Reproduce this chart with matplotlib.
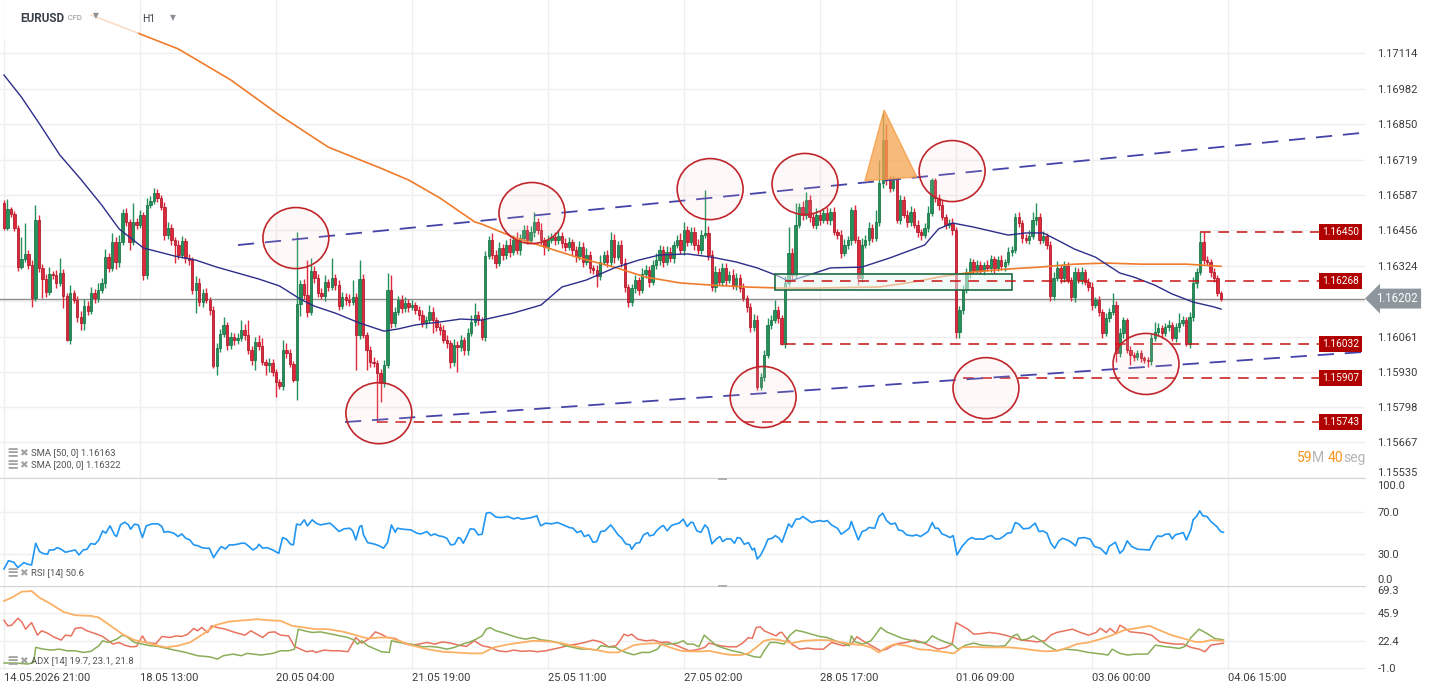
import matplotlib
matplotlib.use("Agg")
import matplotlib.pyplot as plt
import numpy as np
from matplotlib.patches import Ellipse, Polygon, Rectangle
from matplotlib.transforms import blended_transform_factory

plt.rcParams["font.family"] = ["Roboto", "DejaVu Sans"]

# prices are stored as points above 1.15000 (1 point = 0.00001)
BASE = 1.15
PT = 1e-5

first_open_pts = 1557
close_pts = [
    1464, 1535, 1517, 1464, 1320, 1349, 1368, 1327, 1205, 1494,
    1316, 1275, 1227, 1294, 1290, 1260, 1297, 1212, 1048, 1223,
    1197, 1134, 1111, 1175, 1156, 1223, 1205, 1234, 1260, 1357,
    1316, 1412, 1338, 1412, 1520, 1487, 1412, 1487, 1475, 1513,
    1290, 1550, 1565, 1594, 1576, 1542, 1438, 1464, 1420, 1401,
    1364, 1416, 1353, 1345, 1234, 1260, 1190, 1223, 1197, 1159,
    951, 1018, 1070, 1104, 1029, 1059, 1048, 1055, 1085, 1066,
    1011, 974, 1040, 1025, 966, 955, 962, 929, 892, 877,
    1011, 1000, 959, 899, 1182, 1256, 1215, 1152, 1305, 1279,
    1223, 1212, 1264, 1245, 1279, 1252, 1175, 1208, 1197, 1190,
    1208, 1066, 1275, 1066, 1011, 966, 962, 925, 888, 955,
    1234, 1111, 1152, 1197, 1167, 1186, 1171, 1178, 1159, 1141,
    1111, 1122, 1152, 1122, 1096, 1085, 1048, 1037, 966, 1029,
    1022, 1048, 1011, 1074, 1115, 1141, 1122, 1059, 1360, 1420,
    1364, 1334, 1390, 1364, 1401, 1375, 1420, 1383, 1427, 1457,
    1420, 1449, 1487, 1457, 1420, 1394, 1420, 1431, 1420, 1434,
    1409, 1394, 1412, 1383, 1360, 1394, 1338, 1364, 1316, 1308,
    1286, 1338, 1364, 1338, 1420, 1356, 1401, 1334, 1245, 1190,
    1241, 1271, 1234, 1294, 1308, 1264, 1327, 1345, 1383, 1338,
    1375, 1353, 1401, 1420, 1383, 1457, 1412, 1449, 1401, 1383,
    1438, 1446, 1364, 1245, 1301, 1264, 1316, 1271, 1290, 1252,
    1279, 1241, 1205, 1171, 1096, 1122, 873, 910, 992, 1104,
    1122, 1159, 1130, 1032, 1260, 1371, 1290, 1475, 1542, 1513,
    1568, 1505, 1475, 1513, 1494, 1520, 1494, 1524, 1449, 1438,
    1371, 1401, 1420, 1531, 1420, 1279, 1401, 1420, 1464, 1427,
    1487, 1632, 1792, 1643, 1613, 1643, 1494, 1568, 1513, 1487,
    1524, 1475, 1449, 1438, 1464, 1520, 1643, 1576, 1550, 1505,
    1475, 1483, 1457, 1078, 1159, 1234, 1297, 1338, 1308, 1327,
    1308, 1327, 1316, 1349, 1316, 1345, 1323, 1338, 1375, 1383,
    1505, 1483, 1427, 1420, 1434, 1494, 1505, 1420, 1434, 1401,
    1212, 1279, 1316, 1279, 1323, 1271, 1208, 1301, 1271, 1301,
    1264, 1245, 1178, 1197, 1152, 1074, 1130, 1152, 1178, 1000,
    1074, 1122, 1011, 992, 985, 1000, 981, 974, 970, 1055,
    1078, 1092, 1074, 1096, 1104, 1055, 1096, 1111, 1122, 1032,
    1134, 1260, 1301, 1412, 1345, 1338, 1301, 1279, 1223, 1202,
]
wick_up_pts = [
    11, 37, 8, 10, 12, 82, 115, 15, 20, 56,
    18, 14, 20, 25, 12, 18, 56, 15, 10, 30,
    12, 15, 20, 25, 18, 22, 15, 26, 20, 30,
    15, 35, 20, 25, 15, 20, 12, 70, 15, 20,
    12, 25, 20, 19, 15, 12, 18, 22, 15, 12,
    18, 20, 12, 15, 10, 25, 18, 15, 20, 12,
    15, 20, 18, 29, 12, 18, 15, 20, 37, 22,
    56, 15, 20, 25, 30, 12, 18, 15, 10, 12,
    37, 25, 15, 12, 267, 15, 20, 130, 48, 18,
    15, 20, 25, 12, 74, 15, 18, 20, 15, 22,
    63, 15, 70, 18, 12, 15, 20, 12, 15, 18,
    63, 56, 20, 15, 18, 22, 15, 20, 12, 15,
    18, 15, 25, 20, 12, 15, 18, 20, 12, 22,
    15, 20, 12, 18, 25, 45, 15, 12, 20, 15,
    25, 18, 22, 15, 20, 25, 18, 30, 15, 20,
    18, 22, 37, 15, 26, 12, 20, 15, 18, 22,
    15, 20, 18, 12, 15, 22, 18, 25, 15, 12,
    20, 25, 15, 18, 29, 22, 15, 20, 18, 12,
    15, 20, 12, 22, 18, 15, 20, 25, 18, 15,
    22, 18, 15, 20, 25, 30, 15, 20, 18, 22,
    20, 160, 25, 18, 22, 15, 20, 18, 15, 22,
    18, 15, 20, 12, 15, 22, 18, 15, 20, 25,
    18, 38, 15, 12, 25, 97, 20, 82, 15, 22,
    30, 18, 15, 25, 20, 18, 22, 15, 20, 12,
    18, 22, 15, 11, 20, 15, 25, 18, 22, 15,
    44, 85, 100, 60, 15, 15, 7, 20, 15, 18,
    22, 15, 18, 12, 20, 25, 7, 7, 15, 18,
    12, 15, 18, 12, 15, 20, 18, 15, 12, 18,
    15, 12, 18, 15, 12, 15, 18, 12, 20, 15,
    15, 18, 12, 15, 22, 30, 52, 15, 18, 12,
    15, 20, 25, 12, 18, 15, 12, 20, 15, 18,
    12, 15, 18, 12, 15, 12, 20, 15, 45, 15,
    18, 12, 8, 15, 12, 10, 12, 8, 10, 15,
    37, 18, 12, 15, 18, 12, 15, 37, 15, 12,
    18, 22, 15, 38, 38, 15, 12, 15, 12, 8,
]
wick_dn_pts = [
    7, 8, 10, 12, 15, 8, 12, 15, 35, 12,
    15, 70, 18, 12, 15, 20, 12, 45, 5, 15,
    12, 20, 26, 26, 15, 12, 18, 15, 12, 20,
    15, 12, 25, 18, 12, 15, 29, 12, 15, 10,
    20, 15, 12, 10, 15, 12, 18, 15, 20, 67,
    15, 12, 20, 18, 15, 86, 15, 20, 12, 18,
    7, 33, 15, 12, 18, 15, 20, 15, 12, 18,
    15, 20, 38, 15, 12, 37, 25, 15, 56, 12,
    15, 20, 12, 7, 74, 45, 15, 20, 12, 18,
    15, 12, 20, 15, 12, 18, 15, 12, 20, 15,
    12, 130, 15, 12, 75, 20, 15, 182, 71, 15,
    12, 18, 15, 12, 20, 15, 18, 12, 15, 20,
    15, 18, 12, 48, 15, 20, 12, 18, 22, 15,
    93, 15, 20, 18, 12, 15, 18, 11, 15, 12,
    15, 20, 12, 18, 15, 20, 12, 15, 18, 12,
    15, 12, 18, 15, 20, 30, 15, 12, 18, 15,
    20, 15, 12, 18, 22, 15, 18, 12, 20, 15,
    41, 15, 12, 18, 15, 20, 12, 15, 18, 19,
    15, 18, 20, 12, 15, 18, 12, 15, 20, 18,
    12, 15, 18, 12, 15, 20, 15, 12, 18, 15,
    15, 12, 18, 15, 20, 12, 15, 18, 12, 15,
    18, 15, 12, 20, 18, 15, 11, 11, 15, 12,
    15, 12, 18, 2, 15, 12, 18, 15, 12, 20,
    15, 18, 12, 15, 20, 12, 15, 18, 12, 15,
    18, 12, 15, 18, 12, 27, 15, 12, 18, 15,
    12, 15, 18, 20, 15, 12, 10, 15, 12, 18,
    15, 12, 18, 18, 12, 15, 12, 15, 18, 12,
    15, 12, 18, 23, 23, 15, 12, 18, 15, 12,
    15, 18, 12, 15, 18, 12, 15, 18, 12, 15,
    12, 15, 18, 12, 15, 12, 18, 15, 12, 15,
    18, 15, 12, 18, 15, 12, 15, 18, 12, 15,
    12, 15, 18, 12, 15, 19, 12, 15, 12, 34,
    15, 18, 12, 37, 15, 12, 15, 12, 22, 15,
    12, 15, 18, 12, 15, 12, 15, 18, 12, 7,
    12, 15, 18, 12, 15, 12, 18, 15, 12, 10,
]

sma50_bar = [0, 5, 10, 16, 22, 28, 33, 40, 49, 55, 61, 73, 79, 85, 89, 95, 102, 109, 113,
             118, 125, 131, 137, 146, 154, 160, 167, 175, 182, 188, 196, 203, 210, 216,
             222, 225, 228, 237, 246, 254, 264, 268, 272, 278, 288, 293, 298, 302, 307,
             313, 320, 324, 330, 335, 341, 347, 349]
sma50_pts = [2033, 1951, 1855, 1736, 1646, 1550, 1461, 1390, 1360, 1345, 1319, 1275, 1249,
             1200, 1174, 1148, 1111, 1081, 1089, 1104, 1115, 1126, 1122, 1148, 1178, 1245,
             1271, 1316, 1345, 1364, 1368, 1356, 1338, 1316, 1286, 1267, 1278, 1316, 1319,
             1353, 1401, 1461, 1483, 1468, 1438, 1446, 1446, 1420, 1386, 1356, 1297, 1282,
             1252, 1219, 1189, 1171, 1163]
sma200_bar = [25, 36, 50, 65, 79, 93, 108, 116, 125, 135, 137, 146, 156, 165, 175, 184, 194,
              203, 213, 223, 232, 251, 261, 268, 278, 288, 297, 307, 316, 326, 339, 349]
sma200_pts = [2256, 2201, 2130, 2015, 1884, 1765, 1687, 1643, 1576, 1487, 1479, 1431, 1390,
              1353, 1319, 1282, 1260, 1252, 1245, 1241, 1241, 1245, 1264, 1282, 1301, 1312,
              1319, 1330, 1334, 1330, 1330, 1322]

rsi_bar = [0.0, 1.3, 2.8, 4.0, 5.7, 6.8, 7.9, 9.1, 10.2, 11.3, 12.5, 13.0, 14.2, 15.3, 16.4,
           17.6, 19.3, 20.4, 21.5, 22.7, 23.8, 24.9, 26.1, 27.2, 28.3, 29.2, 30.4, 31.7, 32.3,
           33.4, 34.6, 35.7, 36.3, 37.4, 38.5, 39.7, 40.8, 42.5, 44.2, 45.3, 45.9, 47.0, 48.7,
           49.9, 51.0, 52.1, 53.3, 54.4, 55.5, 56.7, 57.8, 58.9, 60.1, 61.2, 62.3, 63.5, 64.6,
           65.7, 66.9, 68.0, 69.1, 70.3, 71.4, 72.5, 73.1, 74.2, 75.4, 77.1, 78.2, 78.8, 79.9,
           81.0, 82.2, 83.0, 83.9, 85.0, 86.1, 87.0, 88.4, 89.5, 90.7, 91.8, 93.5, 94.6, 96.1,
           97.5, 99.2, 100.0, 100.9, 102.0, 102.6, 103.1, 104.3, 106.0, 107.7, 108.8, 110.0,
           111.1, 112.2, 112.8, 114.5, 116.7, 118.4, 119.6, 121.3, 122.4, 123.5, 124.7, 125.8,
           127.0, 128.1, 129.2, 130.3, 130.9, 131.7, 132.6, 133.7, 134.9, 136.0, 137.1, 138.3,
           139.4, 141.1, 142.8, 144.5, 146.2, 147.3, 148.5, 150.2, 151.3, 152.8, 153.9, 155.3,
           157.0, 158.7, 160.4, 162.1, 163.2, 164.3, 165.5, 166.4, 167.7, 168.9, 170.0, 171.1,
           172.3, 174.0, 175.1, 176.1, 177.2, 178.3, 179.5, 180.0, 181.2, 182.3, 183.4, 184.6,
           185.1, 186.3, 187.2, 188.5, 189.1, 190.2, 191.4, 192.5, 193.6, 194.8, 195.9, 197.0,
           197.6, 198.7, 199.9, 201.0, 201.9, 203.0, 204.2, 205.3, 206.1, 207.2, 208.4, 209.5,
           210.3, 211.2, 212.3, 213.5, 214.6, 215.2, 216.0, 216.9, 218.0, 219.1, 220.3, 221.2,
           222.3, 223.1, 224.2, 225.0, 225.9, 227.1, 228.2, 229.1, 230.5, 231.6, 232.7, 233.9,
           235.0, 236.1, 237.3, 238.4, 239.0, 240.1, 241.2, 242.4, 243.0, 244.1, 245.0, 246.1,
           247.3, 248.0, 249.7, 250.9, 252.0, 253.1, 254.3, 255.6, 256.5, 257.7, 258.8, 260.5,
           261.7, 262.8, 263.9, 265.0, 266.2, 267.0, 267.9, 269.0, 270.2, 271.3, 272.2, 273.3,
           274.7, 276.4, 277.5, 278.7, 279.8, 280.9, 282.1, 283.2, 284.3, 285.5, 286.6, 287.7,
           288.9, 290.0, 291.1, 292.3, 294.0, 295.7, 296.8, 297.9, 299.1, 300.2, 301.3, 302.5,
           303.6, 305.3, 306.4, 307.3, 308.1, 309.8, 311.5, 312.7, 314.4, 316.1, 316.9, 318.7,
           320.0, 321.0, 322.1, 323.4, 325.1, 328.5, 329.7, 330.8, 331.9, 333.1, 334.2, 335.0,
           335.9, 337.6, 338.2, 339.1, 340.4, 341.0, 342.1, 342.9, 343.8, 345.0, 346.1, 347.8,
           348.9, 349.7]
rsi_val = [15.2, 23.2, 21.6, 16.5, 21.3, 19.7, 19.0, 40.0, 31.9, 30.0, 29.4, 33.5, 33.5, 35.8,
           34.2, 31.3, 32.6, 33.5, 28.7, 33.5, 34.2, 39.7, 39.0, 43.2, 51.9, 49.7, 56.8, 48.1,
           46.5, 57.7, 60.3, 57.7, 53.5, 58.4, 57.7, 45.5, 56.8, 58.7, 58.7, 56.1, 50.6, 51.3,
           49.7, 46.5, 49.0, 44.8, 43.2, 38.4, 37.7, 35.8, 35.2, 35.2, 26.1, 31.9, 36.8, 34.5,
           38.4, 38.4, 39.0, 40.0, 40.0, 36.8, 33.5, 35.8, 39.0, 35.2, 35.8, 33.5, 31.3, 30.3,
           45.5, 43.9, 39.0, 38.4, 58.4, 57.7, 62.6, 56.8, 62.6, 59.4, 57.7, 58.4, 59.4, 56.1,
           51.3, 53.9, 54.5, 51.9, 43.2, 56.1, 57.1, 48.1, 40.6, 39.4, 37.4, 35.2, 40.6, 57.7,
           50.6, 54.5, 53.5, 52.9, 49.7, 49.0, 51.3, 47.4, 49.0, 47.1, 46.5, 44.8, 38.4, 39.0,
           45.5, 44.8, 40.0, 45.8, 53.9, 53.5, 48.1, 48.7, 69.0, 69.7, 65.2, 64.8, 65.8, 63.5,
           64.8, 63.2, 64.2, 64.8, 66.5, 56.8, 59.4, 58.7, 60.0, 57.7, 55.2, 54.5, 50.3, 51.9,
           46.5, 48.1, 41.0, 41.6, 51.3, 51.9, 57.7, 52.9, 48.1, 44.8, 39.4, 38.4, 34.2, 40.0,
           40.6, 48.1, 50.3, 47.1, 48.1, 52.3, 56.1, 57.1, 51.9, 57.1, 58.4, 59.4, 63.2, 56.1,
           60.3, 60.0, 51.9, 50.6, 57.7, 54.5, 39.4, 43.9, 46.5, 41.6, 44.2, 44.2, 40.0, 45.5,
           44.8, 39.0, 40.6, 33.5, 35.2, 24.8, 28.1, 35.2, 43.9, 44.8, 47.4, 44.8, 41.0, 51.3,
           58.7, 55.5, 63.2, 63.5, 65.8, 62.6, 60.0, 61.0, 61.9, 61.0, 61.9, 57.7, 55.5, 54.5,
           48.7, 51.3, 54.5, 61.0, 51.3, 43.2, 51.3, 52.9, 55.2, 54.5, 65.8, 69.0, 61.9, 58.4,
           59.4, 52.9, 51.9, 48.1, 47.1, 48.1, 46.5, 48.7, 51.3, 60.0, 54.5, 54.5, 49.0, 47.4,
           45.5, 47.4, 28.7, 36.8, 43.2, 45.5, 43.9, 44.2, 43.9, 46.5, 47.4, 44.2, 44.2, 46.5,
           49.7, 50.3, 60.0, 58.4, 53.9, 54.5, 59.4, 51.3, 51.9, 49.7, 40.0, 35.2, 42.3, 44.8,
           42.6, 40.0, 37.4, 44.8, 45.5, 43.9, 36.8, 35.2, 29.4, 36.8, 41.0, 30.3, 33.5, 42.3,
           36.8, 34.2, 33.5, 41.6, 47.1, 46.5, 48.7, 49.0, 44.2, 48.1, 49.7, 50.3, 43.2, 53.5,
           62.6, 66.5, 71.3, 66.5, 65.8, 61.0, 56.1, 51.3, 50.6]

adx_bar = [0, 2.2, 5.1, 7.9, 10.2, 13.6, 17.0, 20.4, 24.9, 27.2, 30.6, 34.0, 37.4, 40.8, 44.2,
           46.5, 49.9, 53.3, 57.8, 60.6, 64.6, 69.1, 72.5, 75.9, 79.3, 82.7, 86.1, 89.5, 92.9,
           97.5, 100.9, 104.3, 107.7, 110.5, 113.3, 116.7, 121.3, 125.8, 129.2, 133.7, 137.1,
           140.5, 145.1, 148.5, 151.9, 156.4, 159.8, 163.2, 166.6, 170.0, 173.4, 176.1, 178.3,
           180.6, 182.9, 185.1, 187.4, 189.7, 191.9, 194.2, 196.5, 199.9, 202.1, 204.4, 206.7,
           208.9, 211.2, 213.5, 215.7, 218.0, 220.3, 222.5, 225.9, 229.3, 232.7, 236.1, 239.5,
           243.0, 246.3, 248.6, 250.9, 253.1, 255.4, 258.8, 262.2, 265.6, 269.0, 272.4, 274.7,
           278.1, 281.5, 284.9, 288.3, 291.7, 295.1, 298.5, 301.9, 305.3, 307.6, 311.0, 314.4,
           317.8, 321.2, 324.6, 328.5, 331.4, 334.8, 338.2, 341.6, 343.8, 346.1, 349.7]
adx_val = [56.3, 59.1, 64.2, 64.8, 59.1, 53.5, 47.0, 44.2, 43.6, 42.2, 35.1, 28.0, 23.0, 21.0,
           18.2, 16.8, 18.2, 21.0, 29.5, 35.7, 38.8, 39.9, 40.8, 39.9, 39.4, 35.1, 33.7, 32.3,
           32.3, 30.0, 27.2, 24.4, 25.2, 25.2, 22.4, 18.7, 15.3, 13.1, 12.5, 11.7, 11.7, 16.8,
           19.6, 21.0, 22.4, 21.8, 20.4, 18.2, 15.9, 14.5, 12.5, 12.5, 15.3, 18.7, 19.6, 20.1,
           20.4, 18.2, 15.9, 13.9, 13.4, 13.4, 13.9, 12.5, 11.1, 10.3, 10.3, 11.7, 16.8, 22.4,
           23.8, 23.0, 20.4, 22.4, 23.0, 23.0, 21.5, 19.6, 18.7, 16.8, 12.5, 16.8, 19.6, 18.2,
           15.3, 14.5, 13.1, 11.7, 16.8, 17.3, 16.8, 16.8, 16.8, 15.9, 14.5, 13.4, 13.9, 16.8,
           19.6, 21.0, 23.8, 27.2, 31.4, 33.1, 35.1, 31.4, 27.2, 24.4, 21.5, 21.5, 23.0, 22.4]

pdi_bar = [0, 1.1, 2.2, 4.0, 5.1, 6.2, 7.9, 9.6, 10.8, 12.5, 14.2, 16.4, 17.6, 19.3, 20.4,
           22.1, 23.8, 26.1, 28.3, 30.0, 31.2, 32.9, 34.6, 36.3, 38.0, 39.7, 40.8, 42.0, 43.6,
           45.3, 47.6, 49.3, 51.0, 52.7, 54.4, 55.5, 56.7, 58.4, 59.5, 61.2, 63.5, 65.7, 69.1,
           70.8, 72.5, 74.2, 75.9, 77.6, 79.3, 81.6, 83.3, 85.0, 86.7, 88.4, 89.5, 91.8, 94.1,
           96.3, 98.6, 100.9, 102.6, 103.7, 104.8, 106.5, 108.2, 109.9, 112.2, 114.5, 116.7,
           119.0, 121.3, 123.5, 125.8, 128.1, 130.3, 132.6, 134.9, 137.1, 139.4, 141.7, 144.0,
           146.2, 148.5, 150.7, 153.0, 155.3, 157.5, 159.8, 162.1, 164.3, 166.6, 168.9, 171.1,
           173.4, 175.5, 176.6, 177.8, 178.9, 180.0, 181.7, 184.0, 186.3, 188.5, 190.2, 191.9,
           194.2, 196.5, 198.7, 201.0, 202.1, 203.3, 205.5, 207.8, 210.1, 211.8, 213.5, 214.6,
           215.7, 216.9, 218.0, 219.1, 221.4, 222.5, 223.1, 224.2, 225.9, 228.2, 230.5, 232.7,
           235.0, 237.3, 239.0, 240.7, 243.0, 244.6, 246.3, 248.0, 249.7, 251.4, 253.1, 254.8,
           256.5, 258.8, 261.1, 263.3, 265.6, 267.9, 270.2, 271.9, 273.0, 274.7, 276.4, 278.1,
           280.3, 282.6, 284.9, 287.1, 289.4, 291.7, 294.0, 296.2, 298.5, 300.2, 301.9, 304.2,
           306.4, 308.7, 311.0, 313.2, 314.4, 316.1, 317.2, 318.9, 320.0, 321.2, 322.9, 324.6,
           326.8, 329.1, 331.4, 333.6, 335.9, 338.2, 340.4, 342.7, 344.4, 346.1, 349.7]
pdi_val = [39.9, 35.1, 35.7, 41.6, 38.5, 32.3, 37.9, 27.2, 30.9, 28.9, 25.8, 23.0, 27.2, 26.6,
           32.9, 33.7, 30.9, 28.6, 26.1, 22.4, 19.6, 21.0, 18.7, 17.3, 17.6, 26.6, 21.0, 20.4,
           20.1, 26.1, 25.2, 26.6, 26.1, 28.0, 32.9, 30.9, 33.7, 29.5, 35.1, 33.7, 32.3, 30.0,
           27.2, 30.9, 28.0, 25.2, 29.5, 30.0, 27.2, 26.6, 17.6, 15.3, 13.1, 13.9, 12.5, 14.5,
           13.9, 13.9, 13.1, 25.2, 20.4, 22.4, 24.4, 30.0, 28.0, 25.2, 24.4, 20.4, 18.7, 19.6,
           21.0, 19.6, 21.5, 20.4, 18.7, 17.6, 22.4, 18.2, 16.8, 13.9, 13.1, 14.5, 13.4, 13.9,
           13.1, 13.9, 15.3, 16.8, 18.7, 19.6, 21.0, 23.0, 21.5, 17.3, 18.2, 22.4, 28.0, 26.6,
           28.0, 23.8, 22.4, 23.0, 21.0, 21.5, 19.6, 16.8, 13.9, 14.8, 16.8, 20.4, 19.6, 18.2,
           17.3, 17.3, 20.4, 25.2, 24.4, 33.7, 34.3, 30.9, 29.5, 26.6, 29.5, 29.5, 25.2, 19.6,
           15.3, 16.2, 15.3, 15.3, 21.0, 19.6, 18.2, 19.6, 25.8, 22.4, 19.6, 16.8, 13.9, 15.3,
           18.2, 20.1, 21.0, 23.0, 21.0, 18.2, 15.3, 16.8, 19.6, 37.9, 35.1, 32.3, 28.0, 28.6,
           29.5, 28.6, 27.2, 25.2, 23.0, 22.4, 21.5, 22.4, 27.2, 29.5, 30.9, 32.3, 29.5, 27.2,
           29.5, 33.1, 29.5, 32.9, 28.6, 35.7, 33.7, 30.0, 29.5, 28.9, 27.2, 21.5, 20.4, 19.6,
           19.6, 16.8, 15.3, 13.1, 18.7, 20.4]

mdi_bar = [0, 3.4, 6.8, 8.5, 9.1, 11.3, 13.6, 15.9, 18.1, 20.4, 22.7, 24.9, 27.2, 28.3, 30.0,
           32.3, 34.0, 35.1, 37.4, 39.7, 42.0, 44.2, 47.6, 52.1, 55.5, 58.9, 61.2, 62.9, 65.7,
           68.0, 69.7, 71.4, 73.7, 77.1, 79.3, 81.6, 83.3, 84.4, 86.1, 88.4, 90.7, 94.1, 96.3,
           98.6, 100.3, 101.4, 102.6, 104.3, 106.5, 108.2, 110.5, 111.1, 113.3, 116.7, 120.1,
           122.4, 124.7, 127.0, 129.2, 131.5, 133.7, 135.4, 137.1, 138.3, 139.4, 141.1, 142.8,
           145.1, 147.3, 149.6, 151.9, 154.1, 156.4, 158.7, 161.0, 163.2, 165.5, 167.7, 170.0,
           171.1, 173.4, 175.5, 176.1, 178.3, 180.6, 182.9, 185.1, 187.4, 188.5, 190.8, 193.1,
           194.8, 195.9, 197.6, 199.3, 200.8, 202.1, 204.4, 206.7, 208.9, 211.2, 213.5, 215.2,
           216.9, 218.0, 219.7, 221.4, 223.7, 225.4, 227.1, 229.3, 231.6, 233.9, 236.1, 238.4,
           240.7, 242.4, 243.0, 244.1, 246.3, 248.6, 249.7, 251.4, 253.1, 255.4, 257.7, 259.9,
           262.2, 264.5, 266.2, 267.9, 270.2, 271.9, 273.6, 275.8, 278.1, 280.3, 282.6, 284.9,
           287.1, 289.4, 290.6, 291.7, 293.4, 295.1, 297.4, 299.6, 301.9, 304.2, 307.6, 311.0,
           314.9, 316.6, 317.8, 320.0, 322.3, 324.6, 328.0, 330.2, 332.5, 334.8, 337.0, 338.7,
           340.4, 342.7, 345.0, 347.2, 349.7]
mdi_val = [3.5, 3.5, 2.6, 4.0, 16.8, 15.3, 14.5, 15.3, 13.9, 13.9, 12.5, 13.4, 18.2, 22.4,
           21.0, 23.8, 27.2, 26.1, 21.0, 19.6, 18.2, 17.6, 15.3, 12.5, 9.7, 8.8, 6.9, 9.7, 11.1,
           9.7, 11.7, 11.1, 10.3, 11.7, 13.9, 13.9, 15.3, 32.3, 30.9, 29.5, 30.0, 28.0, 26.6,
           25.2, 23.2, 19.6, 22.4, 18.2, 15.3, 13.1, 12.5, 22.4, 21.0, 19.6, 17.3, 17.6, 16.8,
           15.3, 16.8, 19.6, 21.5, 23.8, 26.6, 32.3, 33.7, 30.9, 29.5, 27.2, 25.2, 23.8, 25.2,
           23.2, 22.4, 21.0, 18.2, 16.8, 15.3, 15.3, 14.5, 18.2, 17.3, 16.8, 15.3, 12.5, 10.5,
           12.5, 12.5, 15.3, 19.6, 19.6, 20.4, 22.4, 19.6, 19.6, 17.3, 27.2, 23.8, 18.2, 15.9,
           13.9, 12.5, 10.3, 8.8, 8.3, 13.9, 21.0, 21.0, 19.6, 27.2, 31.4, 30.0, 28.0, 26.1,
           25.2, 22.4, 20.1, 18.2, 26.6, 21.5, 19.6, 22.4, 26.6, 33.7, 30.0, 27.2, 24.4, 23.0,
           21.0, 21.0, 26.6, 23.8, 21.0, 19.6, 15.3, 18.7, 20.4, 18.7, 18.2, 17.6, 18.2, 26.6,
           28.0, 23.2, 23.8, 26.6, 22.4, 17.6, 13.9, 15.3, 14.5, 12.5, 11.1, 10.3, 15.3, 11.7,
           10.3, 11.1, 11.1, 18.7, 17.6, 16.8, 15.9, 17.6, 25.2, 32.3, 28.6, 24.4, 23.2]

price_ticks = [1.15535, 1.15667, 1.15798, 1.15930, 1.16061, 1.16193, 1.16324, 1.16456,
               1.16587, 1.16719, 1.16850, 1.16982, 1.17114]
last_price = 1.16202
levels = [1.16450, 1.16268, 1.16032, 1.15907, 1.15743]
level_start = [343, 224, 224, 275, 107]
upper_trend_bar = [67.1, 389.4]
upper_trend_price = [1.16401, 1.16818]
lower_trend_bar = [97.8, 389.4]
lower_trend_price = [1.15743, 1.16003]
circle_bar = [83.7, 107.5, 151.4, 202.5, 229.7, 271.9, 217.7, 281.6, 327.5]
circle_price = [1.16427, 1.15776, 1.16520, 1.16609, 1.16628, 1.16676, 1.15836, 1.15869, 1.15959]
box_bar = [221.1, 289.1]
box_price = [1.16234, 1.16293]
triangle_bar = [246.9, 252.4, 261.8]
triangle_price = [1.16640, 1.16903, 1.16654]

time_tick_bars = [0, 39, 78, 117, 156, 195, 234, 273, 312, 351]
time_labels = ["14.05.2026 21:00", "18.05 13:00", "20.05 04:00", "21.05 19:00", "25.05 11:00",
               "27.05 02:00", "28.05 17:00", "01.06 09:00", "03.06 00:00", "04.06 15:00"]

W, H = 1434, 694
XMIN, XMAX = -1.147, 390.3
GRID = "#efefef"
TXT = "#3c3c3c"
ICON = "#a2a2a2"

close = BASE + np.array(close_pts) * PT
opens = np.concatenate([[BASE + first_open_pts * PT], close[:-1]])
top = np.maximum(opens, close)
bot = np.minimum(opens, close)
high = top + np.array(wick_up_pts) * PT
low = bot - np.array(wick_dn_pts) * PT
bars = np.arange(len(close))
up = close >= opens

fig = plt.figure(figsize=(W / 100, H / 100), dpi=100)
fig.patch.set_facecolor("white")
ax = fig.add_axes([0, 1 - 478 / H, 1365 / W, 478 / H])
ax_rsi = fig.add_axes([0, 1 - 585.7 / H, 1365 / W, 107.7 / H])
ax_adx = fig.add_axes([0, 1 - 670 / H, 1365 / W, 84.3 / H])

for a in (ax, ax_rsi, ax_adx):
    a.set_xlim(XMIN, XMAX)
    for s in a.spines.values():
        s.set_visible(False)
    a.tick_params(axis="both", length=0, labelsize=8, labelcolor=TXT)
    a.yaxis.tick_right()
    a.set_xticks(time_tick_bars)
    a.grid(True, color=GRID, linewidth=1)
    a.set_axisbelow(True)
for a in (ax_rsi, ax_adx):
    a.spines["top"].set_visible(True)
    a.spines["top"].set_color("#d4d4d4")
ax.tick_params(axis="x", labelbottom=False)
ax_rsi.tick_params(axis="x", labelbottom=False)


def legend_row(a, yfrac, label):
    # small "settings" and "remove" icons followed by the indicator text
    a.text(6 / 1365, yfrac, "\u2261", transform=a.transAxes, fontsize=10.5,
           fontweight="bold", color=ICON, va="center", zorder=10)
    a.text(19 / 1365, yfrac, "\u2716", transform=a.transAxes, fontsize=7.5,
           color=ICON, va="center", zorder=10)
    a.text(31 / 1365, yfrac, label, transform=a.transAxes, fontsize=6.8,
           color="#555555", va="center", zorder=10)


# main price panel
ax.set_ylim(1.15535, 1.17312)
ax.set_yticks(price_ticks)
ax.set_yticklabels(["" if t == 1.16193 else f"{t:.5f}" for t in price_ticks])
ax.tick_params(axis="y", pad=9)
ax.get_yticklabels()[0].set_va("bottom")

ax.axhline(last_price, color="#8c8c8c", lw=1, zorder=2)

green, green_e = "#22915a", "#136b3e"
red, red_e = "#e0283c", "#a3101f"
cols = np.where(up, green, red)
ecols = np.where(up, green_e, red_e)
ax.vlines(bars, low, high, colors=cols, lw=1, zorder=3)
ax.bar(bars, np.maximum(top - bot, 1.2e-5), bottom=bot, width=0.68, color=cols,
       edgecolor=ecols, linewidth=0.5, zorder=4)

ax.plot(np.array(sma200_bar), BASE + np.array(sma200_pts) * PT, color="#f07b2a", lw=1.2, zorder=5)
ax.plot(np.array(sma50_bar), BASE + np.array(sma50_pts) * PT, color="#2d2d8a", lw=1, zorder=5)

ax.add_patch(Rectangle((box_bar[0], box_price[0]), box_bar[1] - box_bar[0],
                       box_price[1] - box_price[0], facecolor="#e8f6f3", alpha=0.55,
                       edgecolor="none", zorder=5))
ax.add_patch(Rectangle((box_bar[0], box_price[0]), box_bar[1] - box_bar[0],
                       box_price[1] - box_price[0], fill=False, edgecolor="#1d6a45",
                       lw=1.2, zorder=6))

for lv, st in zip(levels, level_start):
    ax.plot([st, 378], [lv, lv], color="#c81414", lw=1.1, dashes=(7, 5), zorder=6)
    ax.text(378.0, lv, f"{lv:.5f}", color="white", fontsize=7.3, va="center", ha="left",
            zorder=9, clip_on=False,
            bbox=dict(boxstyle="square,pad=0.3", fc="#b00000", ec="none"))

ax.plot(upper_trend_bar, upper_trend_price, color="#4343a8", lw=1.3, dashes=(9, 6), zorder=6)
ax.plot(lower_trend_bar, lower_trend_price, color="#4343a8", lw=1.3, dashes=(9, 6), zorder=6)

for cb, cp in zip(circle_bar, circle_price):
    ax.add_patch(Ellipse((cb, cp), 18.9, 0.00227, facecolor=(0.97, 0.8, 0.8, 0.12),
                         edgecolor="#c0262c", lw=1.2, zorder=7))

ax.add_patch(Polygon(list(zip(triangle_bar, triangle_price)), closed=True, facecolor="#f6a34e",
                     alpha=0.75, edgecolor="#f39a3f", lw=1, zorder=7))

# header overlay
ax.add_patch(Rectangle((XMIN, 1.17163), 38.5 - XMIN, 0.0016, facecolor="white", alpha=0.75,
                       edgecolor="none", zorder=8))
t1 = ax.text(20 / 1365, 1 - 18 / 478, "EURUSD", transform=ax.transAxes, fontsize=8.5,
             fontweight="bold", color="#3a4049", va="center", zorder=10)
ax.annotate("  CFD", xy=(1, 0.5), xycoords=t1, fontsize=5.5, color="#8a8f96",
            va="center", zorder=10)
ax.text(96 / 1365, 1 - 16 / 478, "\u25bc", transform=ax.transAxes, fontsize=5.5,
        color="#8a8f96", ha="center", va="center", zorder=10)
ax.text(142 / 1365, 1 - 19 / 478, "H1", transform=ax.transAxes, fontsize=7.5,
        color="#3a4049", va="center", zorder=10)
ax.text(173 / 1365, 1 - 18 / 478, "\u25bc", transform=ax.transAxes, fontsize=5.5,
        color="#8a8f96", ha="center", va="center", zorder=10)

legend_row(ax, (478 - 453) / 478, "SMA [50, 0] 1.16163")
legend_row(ax, (478 - 465) / 478, "SMA [200, 0] 1.16322")

# countdown
c1 = ax.text(1297 / 1365, (478 - 458) / 478, "59", transform=ax.transAxes, fontsize=10,
             color="#f7931e", va="center", zorder=10)
c2 = ax.annotate("M ", xy=(1, 0), xycoords=c1, fontsize=10, color="#b5b5b5", va="bottom")
c3 = ax.annotate("40", xy=(1, 0), xycoords=c2, fontsize=10, color="#f7931e", va="bottom")
ax.annotate("seg", xy=(1, 0), xycoords=c3, fontsize=10, color="#b5b5b5", va="bottom")

# current price tag
bt = blended_transform_factory(ax.transAxes, ax.transData)
ax.text(1376 / 1365, last_price, f"{last_price:.5f}", transform=bt, fontsize=8.3,
        color="white", va="center", ha="left", zorder=12, clip_on=False,
        bbox=dict(boxstyle="larrow,pad=0.3", fc="#8c969c", ec="none"))

# RSI panel
ax_rsi.set_ylim(-1, 103)
ax_rsi.set_yticks([0, 30, 70, 100])
ax_rsi.set_yticklabels(["0.0", "30.0", "70.0", "100.0"])
ax_rsi.tick_params(axis="y", pad=9)
ax_rsi.yaxis.grid(False)
for v in (30, 70):
    ax_rsi.axhline(v, color=GRID, lw=1, zorder=0)
ax_rsi.get_yticklabels()[0].set_va("bottom")
ax_rsi.get_yticklabels()[-1].set_va("top")
ax_rsi.plot(rsi_bar, rsi_val, color="#2196f3", lw=1.2)
legend_row(ax_rsi, 0.118, "RSI [14] 50.6")

# ADX panel
ax_adx.set_ylim(-2.45, 69.3)
ax_adx.set_yticks([-1.0, 22.4, 45.9, 69.3])
ax_adx.set_yticklabels(["-1.0", "22.4", "45.9", "69.3"])
ax_adx.tick_params(axis="y", pad=9)
ax_adx.get_yticklabels()[-1].set_va("top")
ax_adx.plot(pdi_bar, pdi_val, color="#e8735f", lw=1.1)
ax_adx.plot(mdi_bar, mdi_val, color="#8aae58", lw=1.1)
ax_adx.plot(adx_bar, adx_val, color="#fbb065", lw=1.3)
legend_row(ax_adx, 0.107, "ADX [14] 19.7, 23.1, 21.8")
ax_adx.set_xticklabels(time_labels, ha="left")
ax_adx.tick_params(axis="x", pad=2, labelsize=8)

# panel resize handles
for yy in (478.5, 585.5):
    fig.add_artist(Rectangle((718 / W, 1 - (yy + 1.5) / H), 9 / W, 2 / H, transform=fig.transFigure,
                             facecolor="#b0b0b0", edgecolor="none"))

fig.savefig("out.png", dpi=100, facecolor="white")
